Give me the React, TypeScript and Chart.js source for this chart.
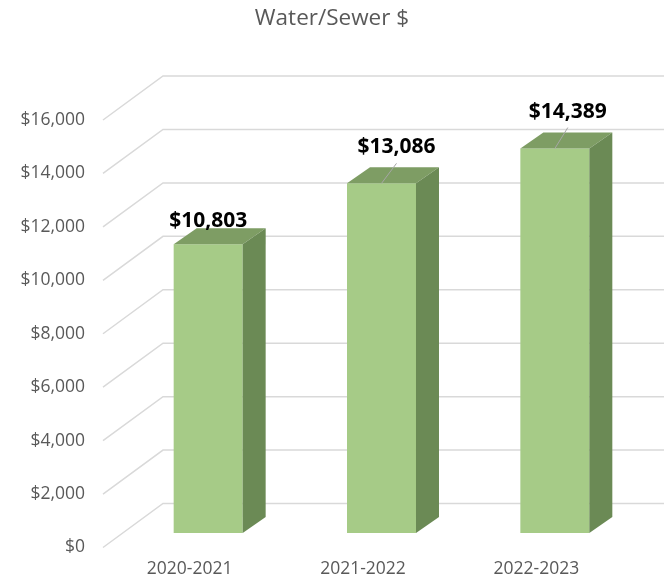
import React, { useEffect, useRef } from "react";
import { Chart, registerables } from "chart.js";

Chart.register(...registerables);

const categories: string[] = ["2020-2021", "2021-2022", "2022-2023"];
const waterSewer: number[] = [10803, 13086, 14389];
const yMin = 0;
const yMax = 16000;
const yStep = 2000;
const chartTitle = "Water/Sewer $";

const FONT = '"Open Sans", "Liberation Sans", sans-serif';
const FRONT_DX = 18.5;
const FRONT_DY = -14.5;
const DEPTH_X = 23;
const DEPTH_Y = 16;
const WALL_X = 60;
const WALL_Y = 44;
const COLOR_FRONT = "#A6CB87";
const COLOR_TOP = "#7E9D64";
const COLOR_SIDE = "#6B8A55";
const GRID = "#D9D9D9";
const LABEL_PLACEMENT = [
  { dx: 0, dy: -23, leader: false },
  { dx: 15, dy: -36, leader: true },
  { dx: 13, dy: -37, leader: true },
];

const fmt = (v: number) => "$" + Math.round(v).toLocaleString("en-US");

const bar3d = {
  id: "bar3d",
  beforeDatasetsDraw(chart: any) {
    const { ctx, chartArea, scales } = chart;
    const y = scales.y;
    ctx.save();
    ctx.strokeStyle = GRID;
    ctx.lineWidth = 1.5;
    y.ticks.forEach((t: any) => {
      const py = y.getPixelForValue(t.value);
      const x0 = chartArea.left;
      ctx.beginPath();
      ctx.moveTo(x0, py);
      ctx.lineTo(x0 + WALL_X, py - WALL_Y);
      ctx.lineTo(chart.width, py - WALL_Y);
      ctx.stroke();
    });
    ctx.restore();
    ctx.save();
    ctx.translate(FRONT_DX, FRONT_DY);
  },
  afterDatasetsDraw(chart: any) {
    const { ctx } = chart;
    const meta = chart.getDatasetMeta(0);
    meta.data.forEach((bar: any) => {
      const { x, y, base, width } = bar.getProps(["x", "y", "base", "width"], true);
      const l = x - width / 2;
      const r = x + width / 2;
      ctx.fillStyle = COLOR_TOP;
      ctx.beginPath();
      ctx.moveTo(l, y);
      ctx.lineTo(r, y);
      ctx.lineTo(r + DEPTH_X, y - DEPTH_Y);
      ctx.lineTo(l + DEPTH_X, y - DEPTH_Y);
      ctx.closePath();
      ctx.fill();
      ctx.fillStyle = COLOR_SIDE;
      ctx.beginPath();
      ctx.moveTo(r, y);
      ctx.lineTo(r, base);
      ctx.lineTo(r + DEPTH_X, base - DEPTH_Y);
      ctx.lineTo(r + DEPTH_X, y - DEPTH_Y);
      ctx.closePath();
      ctx.fill();
    });
    ctx.restore();

    ctx.save();
    const ds = chart.data.datasets[0];
    meta.data.forEach((bar: any, i: number) => {
      const { x, y } = bar.getProps(["x", "y"], true);
      const fx = x + FRONT_DX;
      const fy = y + FRONT_DY;
      const p = LABEL_PLACEMENT[i] || { dx: 0, dy: -24, leader: false };
      if (p.leader) {
        ctx.strokeStyle = "#A6A6A6";
        ctx.lineWidth = 1;
        ctx.beginPath();
        ctx.moveTo(fx, fy);
        ctx.lineTo(fx + p.dx, fy + p.dy + 16);
        ctx.stroke();
      }
      ctx.fillStyle = "#000000";
      ctx.font = "bold 21px " + FONT;
      ctx.textAlign = "center";
      ctx.textBaseline = "middle";
      ctx.fillText(fmt(ds.data[i]), fx + p.dx, fy + p.dy);
    });
    ctx.restore();
  },
};

export default function App() {
  const ref = useRef<HTMLCanvasElement | null>(null);
  useEffect(() => {
    if (!ref.current) return;
    const chart = new Chart(ref.current, {
      type: "bar",
      data: {
        labels: categories,
        datasets: [
          {
            label: chartTitle,
            data: waterSewer,
            backgroundColor: COLOR_FRONT,
            borderWidth: 0,
            barPercentage: 0.398,
            categoryPercentage: 1,
            yAxisID: "y",
          },
        ],
      },
      options: {
        responsive: false,
        animation: false,
        layout: { padding: { left: 15, right: 15, top: 0, bottom: 0 } },
        plugins: {
          legend: { display: false },
          tooltip: { enabled: false },
          title: {
            display: true,
            text: chartTitle,
            color: "#595959",
            font: { family: FONT, size: 22.5, weight: "normal" },
            padding: { top: 5.5, bottom: 87.5 },
          },
        },
        scales: {
          x: {
            grid: { display: false, drawTicks: false },
            border: { display: false },
            ticks: { color: "#595959", font: { family: FONT, size: 17.5 }, padding: 11 },
            afterFit(scale: any) {
              scale.height = 36.5;
            },
          },
          y: {
            min: yMin,
            max: yMax,
            grid: { display: false, drawTicks: false },
            border: { display: false },
            ticks: {
              stepSize: yStep,
              color: "#595959",
              font: { family: FONT, size: 17.5 },
              padding: 18,
              callback: (v: any) => fmt(Number(v)),
            },
            afterFit(scale: any) {
              scale.width = 88;
            },
          },
          yRight: {
            position: "right",
            display: true,
            grid: { display: false, drawTicks: false },
            border: { display: false },
            ticks: { display: false },
            afterFit(scale: any) {
              scale.width = 26;
            },
          },
        },
      },
      plugins: [bar3d],
    });
    return () => chart.destroy();
  }, []);
  return (
    <div style={{ position: "absolute", left: 0, top: 0, width: 664, height: 584, background: "#fff" }}>
      <canvas ref={ref} width={664} height={584} style={{ display: "block" }} />
    </div>
  );
}
